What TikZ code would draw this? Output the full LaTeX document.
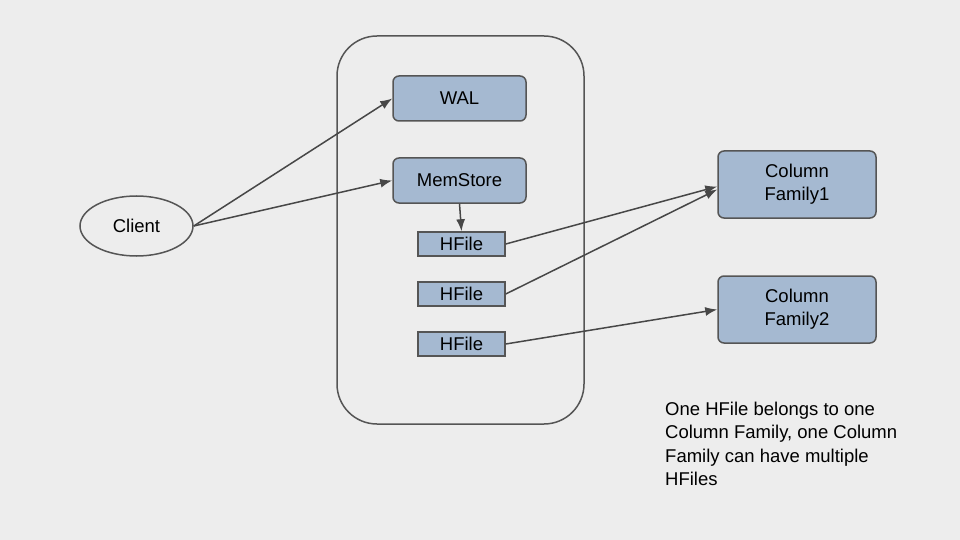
\documentclass[tikz,border=0pt]{standalone}
\usepackage{fontspec}
\setmainfont{Liberation Sans}
\usetikzlibrary{positioning}
\usetikzlibrary{shapes.geometric}
\usetikzlibrary{arrows.meta}
\definecolor{boxblue}{HTML}{A5B9D1}
\definecolor{edgegray}{HTML}{555555}
\definecolor{linegray}{HTML}{474747}
\definecolor{bggray}{HTML}{EDEDED}

\begin{document}
\begin{tikzpicture}[x=1pt,y=-1pt,
		blk/.style={fill=boxblue,draw=edgegray,line width=1.5pt,rounded corners=6pt,minimum width=133pt,minimum height=45pt,inner sep=0pt},
		hf/.style={fill=boxblue,draw=edgegray,line width=1.5pt,minimum width=87pt,minimum height=24pt,inner sep=0pt},
		arr/.style={-{Latex[length=12pt,width=9pt]},draw=linegray,line width=1.5pt}]
		\fontsize{18.5}{23.3}\selectfont
		\fill[bggray] (0,0) rectangle (960,540);
		\useasboundingbox (0,0) rectangle (960,540);
		\node[draw=edgegray,line width=1.5pt,rounded corners=40pt,minimum width=247pt,minimum height=388pt] at (460.5,230) (rs) {};
		\node[blk] at (459.5,98.5) (wal) {WAL};
		\node[blk,below = 35.5pt of wal] (ms) {MemStore};
		\node[hf] at (461.5,244) (h1) {HFile};
		\node[hf,below = 24.5pt of h1] (h2) {HFile};
		\node[hf,below = 24.5pt of h2] (h3) {HFile};
		\node[draw=edgegray,line width=1.5pt,ellipse,minimum width=113pt,minimum height=60pt,inner sep=0pt] at (136.5,226) (cl) {Client};
		\node[blk,minimum width=158pt,minimum height=67pt,align=center] at (797,184.5) (cf1) {Column\\Family1};
		\node[blk,minimum width=158pt,minimum height=67pt,align=center,below = 56.5pt of cf1] (cf2) {Column\\Family2};
		\node[anchor=north west,align=left,inner sep=0pt] at (665,402) (note) {One HFile belongs to one\\Column Family, one Column\\Family can have multiple\\HFiles};
		\draw[arr] (cl.east) to (wal.west);
		\draw[arr] (cl.east) to (ms.west);
		\draw[arr] (ms.south) to (h1.north);
		\draw[arr] (h1.east) to ([yshift=-2pt]cf1.west);
		\draw[arr] (h2.east) to ([yshift=-5pt]cf1.west);
		\draw[arr] (h3.east) to (cf2.west);
	\end{tikzpicture}
\end{document}
